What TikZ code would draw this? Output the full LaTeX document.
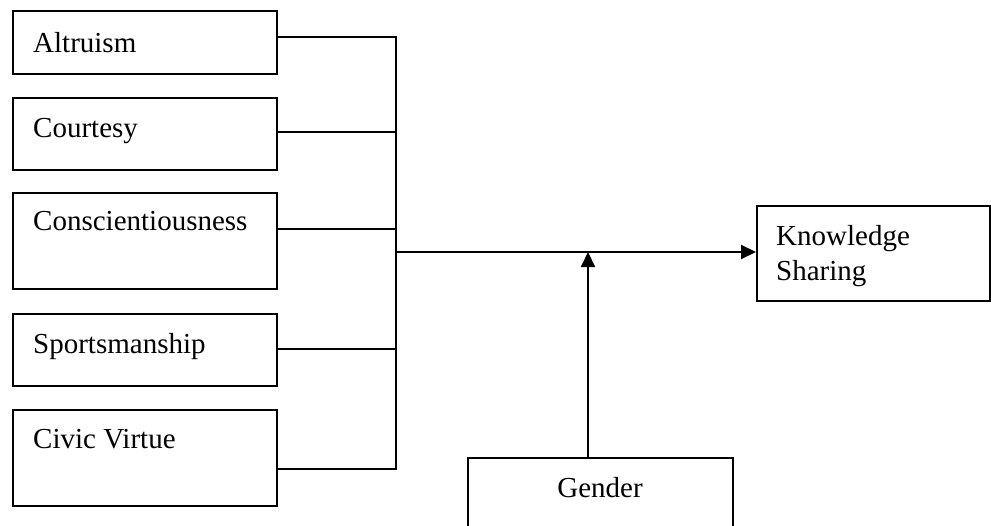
\documentclass[tikz,border=0pt]{standalone}
\usepackage{fontspec}
\setmainfont{Liberation Serif}
\usetikzlibrary{arrows.meta,calc}
\begin{document}
\begin{tikzpicture}[x=1pt,y=-1pt,
  box/.style={draw,line width=2pt,inner sep=0pt,anchor=north west},
  lbl/.style={anchor=base west,inner sep=0pt,font=\fontsize{29}{35}\selectfont},
  wire/.style={line width=2pt},
  arr/.style={wire,-{Triangle[length=15pt,width=14pt]}}]
  \path[use as bounding box,clip] (0,0) rectangle (991,525);
  \fill[white] (0,0) rectangle (991,525);

  % dimension boxes
  \node[box,minimum width=264pt,minimum height=63pt] (alt) at (12,10) {};
  \node[box,minimum width=264pt,minimum height=72pt] (cou) at (12,97) {};
  \node[box,minimum width=264pt,minimum height=96pt] (con) at (12,192) {};
  \node[box,minimum width=264pt,minimum height=72pt] (spo) at (12,313) {};
  \node[box,minimum width=264pt,minimum height=96pt] (civ) at (12,409) {};
  % outcome and moderator
  \node[box,minimum width=233pt,minimum height=95pt] (ks) at (756,205) {};
  \node[box,minimum width=265pt,minimum height=95pt] (gen) at (467,457) {};

  % labels
  \node[lbl] (altT) at (33,52) {Altruism};
  \node[lbl] (couT) at (33,137) {Courtesy};
  \node[lbl] (conT) at (33,230) {Conscientiousness};
  \node[lbl] (spoT) at (33,353) {Sportsmanship};
  \node[lbl] (civT) at (33,448) {Civic Virtue};
  \node[lbl] (ksT1) at (776,245) {Knowledge};
  \node[lbl] (ksT2) at (776,280) {Sharing};
  \node[lbl,anchor=base] (genT) at (600,497) {Gender};

  % collecting bus
  \coordinate (b1) at (396,37);
  \coordinate (b2) at (396,132);
  \coordinate (b3) at (396,229);
  \coordinate (b4) at (396,349);
  \coordinate (b5) at (396,469);
  \coordinate (hub) at (396,252);
  \coordinate (mod) at (588,252);

  \draw[wire] (alt.east |- b1) -- (b1) -- (b5) -- (civ.east |- b5);
  \draw[wire] (cou.east |- b2) -- (b2);
  \draw[wire] (con.east |- b3) -- (b3);
  \draw[wire] (spo.east |- b4) -- (b4);

  % effect and moderation arrows
  \draw[arr] (hub) -- (ks.west |- hub);
  \draw[arr] (gen.north -| mod) -- (mod);
\end{tikzpicture}
\end{document}
